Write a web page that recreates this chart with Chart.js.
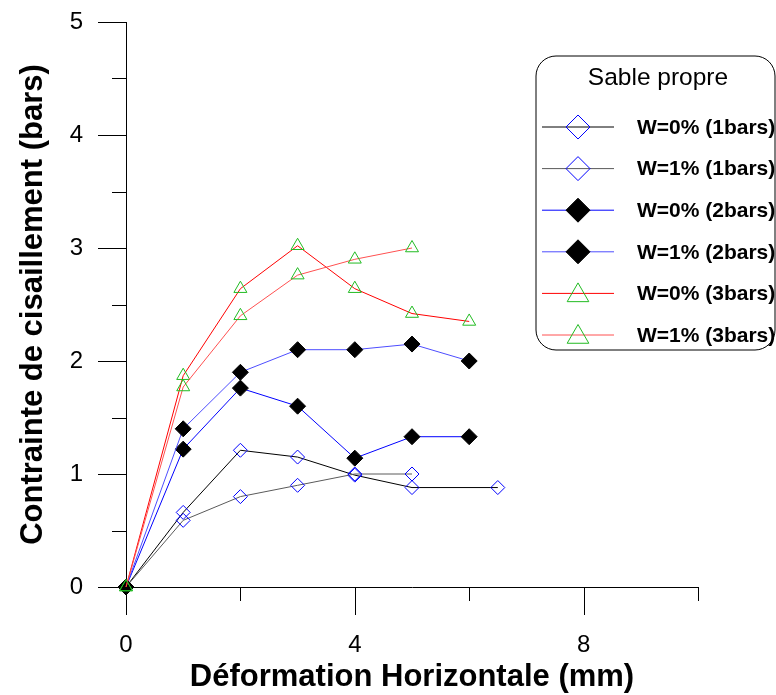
<!DOCTYPE html>
<html>
<head>
<meta charset="utf-8">
<script src="https://cdn.jsdelivr.net/npm/chart.js@4.4.1/dist/chart.umd.min.js"></script>
<style>
    html, body { margin: 0; padding: 0; background: #fff; }
</style>
</head>
<body>
<canvas id="myChart" width="776" height="695"></canvas>
<script>
// values
const legendTitle = 'Sable propre';
const seriesNames = ['W=0% (1bars)', 'W=1% (1bars)', 'W=0% (2bars)', 'W=1% (2bars)', 'W=0% (3bars)', 'W=1% (3bars)'];

const xW0b1 = [0, 1, 2, 3, 4, 5, 6.5];
const yW0b1 = [0, 0.66, 1.21, 1.15, 0.99, 0.88, 0.88];
const xW1b1 = [0, 1, 2, 3, 4, 5];
const yW1b1 = [0, 0.59, 0.8, 0.9, 1.0, 1.0];

const xW0b2 = [0, 1, 2, 3, 4, 5, 6];
const yW0b2 = [0, 1.22, 1.76, 1.6, 1.14, 1.33, 1.33];
const xW1b2 = [0, 1, 2, 3, 4, 5, 6];
const yW1b2 = [0, 1.4, 1.9, 2.1, 2.1, 2.15, 2.0];

const xW0b3 = [0, 1, 2, 3, 4, 5, 6];
const yW0b3 = [0, 1.87, 2.64, 3.02, 2.64, 2.42, 2.35];
const xW1b3 = [0, 1, 2, 3, 4, 5];
const yW1b3 = [0, 1.77, 2.4, 2.76, 2.9, 3.0];

const xTickLabels = [0, 4, 8];
const xMinorTicks = [2, 6, 10];
const yTickLabels = [0, 1, 2, 3, 4, 5];
const yMinorTicks = [0.5, 1.5, 2.5, 3.5, 4.5];

const FONT = '"Liberation Sans", Arial, sans-serif';

const toPoints = (xs, ys) => xs.map((x, i) => ({x: x, y: ys[i]}));

const makeSet = (label, xs, ys, line, style, stroke, fill, radius, order) => ({
    label: label,
    data: toPoints(xs, ys),
    showLine: true,
    borderColor: line,
    borderWidth: 1,
    pointStyle: style,
    pointRadius: radius,
    pointHoverRadius: radius,
    pointBorderColor: stroke,
    pointBackgroundColor: fill,
    pointBorderWidth: 1,
    order: order, // later series end up on top
    clip: false
});

const datasets = [
    makeSet(seriesNames[0], xW0b1, yW0b1, '#000000', 'rectRot', '#0000ff', 'rgba(0,0,0,0)', 7, 6),
    makeSet(seriesNames[1], xW1b1, yW1b1, '#5a5a5a', 'rectRot', '#0000ff', 'rgba(0,0,0,0)', 7, 5),
    makeSet(seriesNames[2], xW0b2, yW0b2, '#0000ff', 'rectRot', '#000000', '#000000', 8, 4),
    makeSet(seriesNames[3], xW1b2, yW1b2, '#4d4dff', 'rectRot', '#000000', '#000000', 8, 3),
    makeSet(seriesNames[4], xW0b3, yW0b3, '#ff0000', 'triangle', '#22bb22', 'rgba(0,0,0,0)', 7.5, 2),
    makeSet(seriesNames[5], xW1b3, yW1b3, '#ff5050', 'triangle', '#22bb22', 'rgba(0,0,0,0)', 7.5, 1)
];

// tick marks: long ones at labelled values, short ones in between
const tickMarks = {
    id: 'tickMarks',
    beforeDatasetsDraw(chart) {
        const ctx = chart.ctx;
        const xs = chart.scales.x;
        const ys = chart.scales.y;
        const left = chart.chartArea.left;
        const bottom = chart.chartArea.bottom;
        ctx.save();
        ctx.strokeStyle = '#000';
        ctx.lineWidth = 1;
        ctx.beginPath();
        yTickLabels.forEach(v => {
            const p = Math.round(ys.getPixelForValue(v)) + 0.5;
            ctx.moveTo(left - 28, p); ctx.lineTo(left, p);
        });
        yMinorTicks.forEach(v => {
            const p = Math.round(ys.getPixelForValue(v)) + 0.5;
            ctx.moveTo(left - 14, p); ctx.lineTo(left, p);
        });
        xTickLabels.forEach(v => {
            const p = Math.round(xs.getPixelForValue(v)) + 0.5;
            ctx.moveTo(p, bottom); ctx.lineTo(p, bottom + 28);
        });
        xMinorTicks.forEach(v => {
            const p = Math.round(xs.getPixelForValue(v)) + 0.5;
            ctx.moveTo(p, bottom); ctx.lineTo(p, bottom + 14);
        });
        ctx.stroke();
        ctx.restore();
    }
};

function marker(ctx, style, x, y, r) {
    ctx.beginPath();
    if (style === 'triangle') {
        for (let i = 0; i < 3; i++) {
            const a = i * 2 * Math.PI / 3;
            const px = x + Math.sin(a) * r;
            const py = y - Math.cos(a) * r;
            if (i === 0) ctx.moveTo(px, py); else ctx.lineTo(px, py);
        }
    } else {
        ctx.moveTo(x, y - r);
        ctx.lineTo(x + r, y);
        ctx.lineTo(x, y + r);
        ctx.lineTo(x - r, y);
    }
    ctx.closePath();
    ctx.fill();
    ctx.stroke();
}

// the boxed legend at the top right
const legendBox = {
    id: 'legendBox',
    afterDraw(chart) {
        const ctx = chart.ctx;
        const bx = 536, by = 56, bw = 239, bh = 294, r = 20;
        ctx.save();
        ctx.beginPath();
        ctx.moveTo(bx + r, by);
        ctx.arcTo(bx + bw, by, bx + bw, by + bh, r);
        ctx.arcTo(bx + bw, by + bh, bx, by + bh, r);
        ctx.arcTo(bx, by + bh, bx, by, r);
        ctx.arcTo(bx, by, bx + bw, by, r);
        ctx.closePath();
        ctx.fillStyle = '#fff';
        ctx.fill();
        ctx.strokeStyle = '#000';
        ctx.lineWidth = 1;
        ctx.stroke();

        ctx.fillStyle = '#000';
        ctx.font = '24.5px ' + FONT;
        ctx.textAlign = 'center';
        ctx.textBaseline = 'middle';
        ctx.fillText(legendTitle, 658, 78);

        chart.data.datasets.forEach((ds, i) => {
            const y = 127 + i * 41.6;
            ctx.strokeStyle = ds.borderColor;
            ctx.lineWidth = 1;
            ctx.beginPath();
            ctx.moveTo(542, y);
            ctx.lineTo(614, y);
            ctx.stroke();
            ctx.strokeStyle = ds.pointBorderColor;
            ctx.fillStyle = ds.pointBackgroundColor;
            marker(ctx, ds.pointStyle, 578, ds.pointStyle === 'triangle' ? y + 2 : y, ds.pointStyle === 'triangle' ? 12.5 : 12);
            ctx.fillStyle = '#000';
            ctx.font = 'bold 21px ' + FONT;
            ctx.textAlign = 'left';
            ctx.fillText(ds.label, 637, y + 1);
        });
        ctx.restore();
    }
};

const ctx = document.getElementById('myChart').getContext('2d');

const myChart = new Chart(ctx, {
    type: 'scatter',
    data: {datasets: datasets},
    options: {
        responsive: false,
        animation: false,
        layout: {padding: {top: 22, right: 78, left: 0, bottom: 0}},
        plugins: {
            legend: {display: false},
            tooltip: {enabled: false}
        },
        scales: {
            x: {
                type: 'linear',
                min: 0,
                max: 10,
                afterBuildTicks: (scale) => {
                    scale.ticks = xTickLabels.map(v => ({value: v}));
                },
                afterFit: (scale) => {
                    scale.height = 108;
                    scale.paddingLeft = 0;
                    scale.paddingRight = 0;
                },
                grid: {display: false, drawTicks: false},
                border: {display: true, color: '#000', width: 1},
                ticks: {
                    padding: 44,
                    maxRotation: 0,
                    color: '#000',
                    font: {family: FONT, size: 24}
                },
                title: {
                    display: true,
                    text: 'Déformation Horizontale (mm)',
                    color: '#000',
                    padding: {top: 0, bottom: -1},
                    font: {family: FONT, size: 31, weight: 'bold'}
                }
            },
            y: {
                type: 'linear',
                min: 0,
                max: 5,
                afterBuildTicks: (scale) => {
                    scale.ticks = yTickLabels.map(v => ({value: v}));
                },
                afterFit: (scale) => {
                    scale.width = 126;
                    scale.paddingTop = 0;
                    scale.paddingBottom = 0;
                },
                grid: {display: false, drawTicks: false},
                border: {display: true, color: '#000', width: 1},
                ticks: {
                    padding: 43,
                    color: '#000',
                    font: {family: FONT, size: 24}
                },
                title: {
                    display: true,
                    text: 'Contrainte de cisaillement (bars)',
                    color: '#000',
                    padding: {top: 15, bottom: 0},
                    font: {family: FONT, size: 31, weight: 'bold'}
                }
            }
        }
    },
    plugins: [tickMarks, legendBox]
});
</script>
</body>
</html>
